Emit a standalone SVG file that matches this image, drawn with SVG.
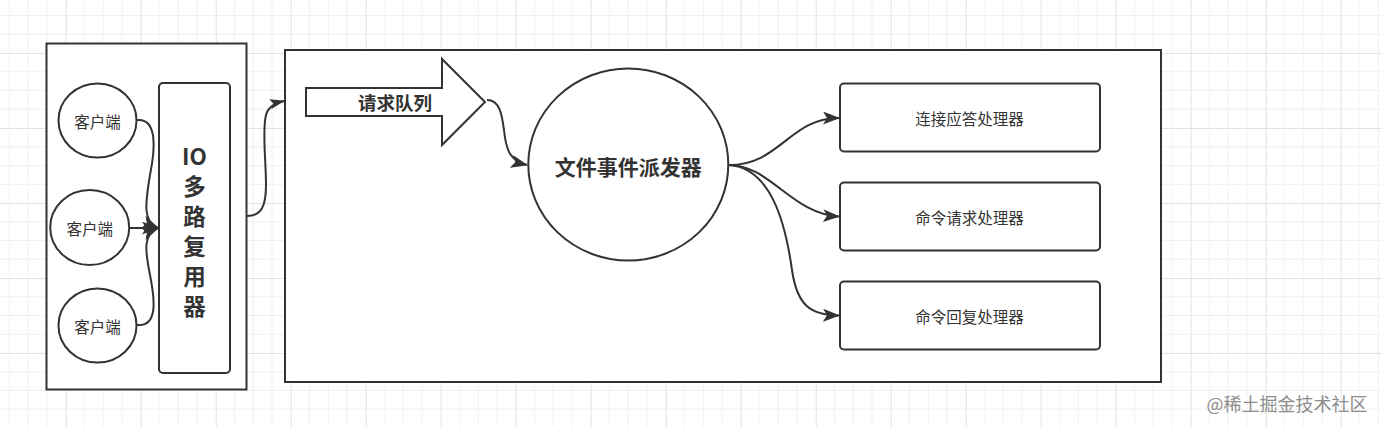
<svg xmlns="http://www.w3.org/2000/svg" width="1382" height="427" viewBox="0 0 1382 427">
<style>
.sh{fill:#fff;stroke:#333;stroke-width:2}
.cn{fill:none;stroke:#333;stroke-width:2}
.t{font-family:"Noto Sans CJK SC","Noto Sans",sans-serif;fill:#333;text-anchor:middle;dominant-baseline:central}
.b{font-weight:bold}
.c{font-size:15.5px}
.h{font-size:15.5px}
</style>
<defs>
<pattern id="grid" x="-9.3" y="-22" width="75" height="75" patternUnits="userSpaceOnUse">
<path d="M18.75,0V75M37.5,0V75M56.25,0V75M0,18.75H75M0,37.5H75M0,56.25H75" stroke="#f0f0f0" stroke-width="1" fill="none"/>
<path d="M0.5,0V75M0,0.5H75" stroke="#e3e3e3" stroke-width="1" fill="none"/>
</pattern>
<marker id="ar" markerUnits="userSpaceOnUse" markerWidth="18" markerHeight="14" refX="16" refY="6.5" orient="auto" viewBox="0 0 18 14">
<path d="M0,0 L17,6.5 L0,13 L4,6.5 z" fill="#333"/>
</marker>
<marker id="as" markerUnits="userSpaceOnUse" markerWidth="16" markerHeight="12" refX="14" refY="5" orient="auto" viewBox="0 0 16 12">
<path d="M0,0 L15,5 L0,10 L3,5 z" fill="#333"/>
</marker>
</defs>
<rect width="1382" height="427" fill="#fff"/>
<rect width="1382" height="427" fill="url(#grid)"/>

<g id="outer-left"><rect class="sh" x="46.5" y="43.5" width="200" height="346"/></g>
<g id="outer-main"><rect class="sh" x="285" y="50" width="876" height="332"/></g>

<g id="client1"><ellipse class="sh" cx="97.5" cy="120.5" rx="39" ry="37"/><text class="t c" x="97.5" y="121">客户端</text></g>
<g id="client2"><ellipse class="sh" cx="89.7" cy="227.5" rx="39.5" ry="37.5"/><text class="t c" x="89.7" y="228">客户端</text></g>
<g id="client3"><ellipse class="sh" cx="97.5" cy="325.5" rx="39" ry="37"/><text class="t c" x="97.5" y="326">客户端</text></g>

<g id="io-mux"><rect class="sh" x="159" y="83" width="71" height="290" rx="4"/>
<text class="t b" x="194.5" font-size="22.5"><tspan x="194.5" y="155">IO</tspan><tspan x="194.5" y="185">多</tspan><tspan x="194.5" y="215">路</tspan><tspan x="194.5" y="245">复</tspan><tspan x="194.5" y="275">用</tspan><tspan x="194.5" y="305">器</tspan></text></g>

<g id="queue"><polygon class="sh" points="306,88 442,88 442,59 485,102 442,145 442,116 306,116"/><text class="t b" x="395" y="102" font-size="18.5">请求队列</text></g>

<g id="dispatcher"><ellipse class="sh" cx="628.3" cy="164.5" rx="100" ry="96"/><text class="t b" x="628.3" y="166" font-size="21">文件事件派发器</text></g>

<g id="h1"><rect class="sh" x="840" y="83.5" width="260" height="68" rx="4"/><text class="t h" x="969.5" y="118">连接应答处理器</text></g>
<g id="h2"><rect class="sh" x="840" y="182.5" width="260" height="68" rx="4"/><text class="t h" x="969.5" y="217">命令请求处理器</text></g>
<g id="h3"><rect class="sh" x="840" y="281.5" width="260" height="68" rx="4"/><text class="t h" x="969.5" y="316">命令回复处理器</text></g>

<g id="connectors">
<path class="cn" marker-end="url(#ar)" d="M137,120 C158,118 155,150 150,175 C145,205 143,222 158,228"/>
<path class="cn" marker-end="url(#ar)" d="M129,228 L158,228"/>
<path class="cn" marker-end="url(#ar)" d="M137,325 C158,327 155,300 150,275 C145,250 143,234 158,228"/>
<path class="cn" marker-end="url(#as)" d="M247,216 C262,216 266,205 266,185 C266,160 262,130 266,115 C268,107 275,103 284,101"/>
<path class="cn" marker-end="url(#ar)" d="M487,100 C500,100 502,115 504,130 C506,150 510,161 527,165"/>
<path class="cn" marker-end="url(#ar)" d="M729,165 C780,165 790,118 839,118"/>
<path class="cn" marker-end="url(#ar)" d="M729,165 C770,165 792,214 839,216.5"/>
<path class="cn" marker-end="url(#ar)" d="M729,165 C770,168 785,220 792,270 C797,305 810,315 839,315.5"/>
</g>

<text x="1287" y="403" font-family="Noto Sans CJK SC, sans-serif" font-size="18" fill="#8c8c8c" text-anchor="middle" dominant-baseline="central">@稀土掘金技术社区</text>
</svg>
